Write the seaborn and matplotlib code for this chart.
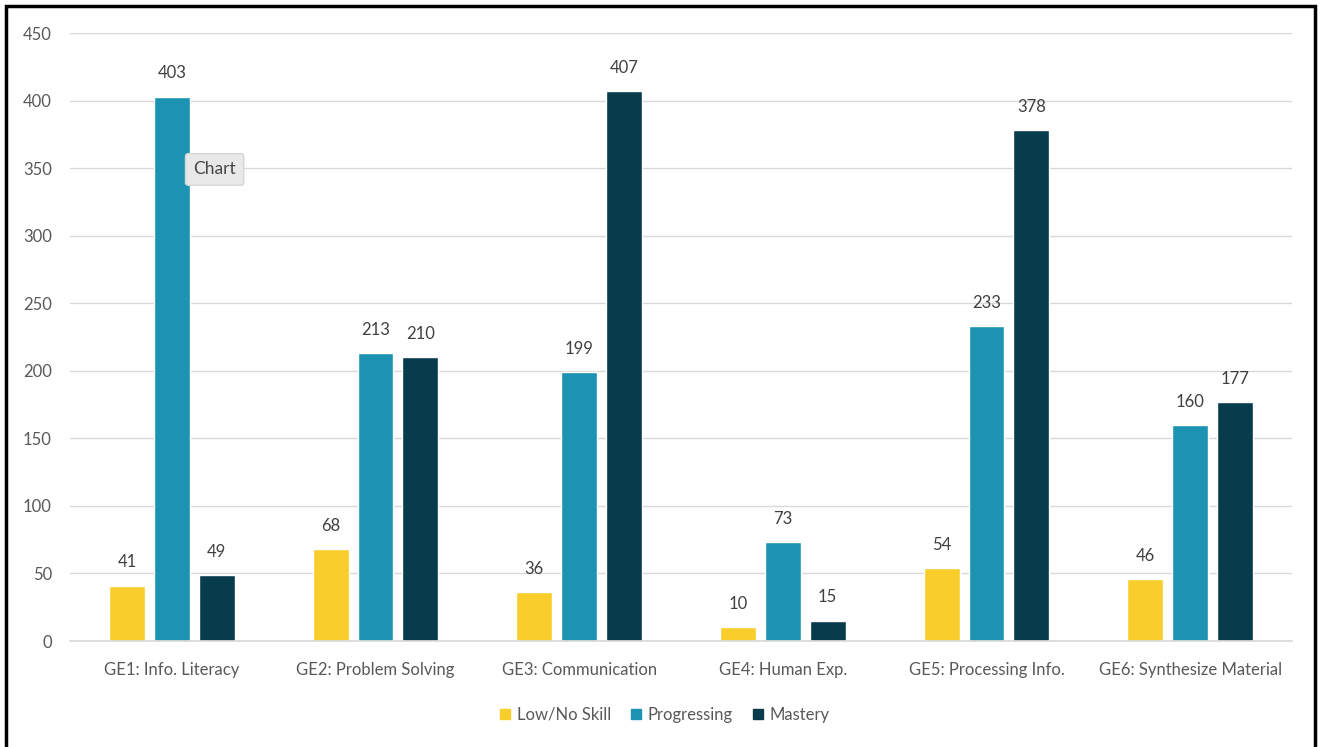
import numpy as np
import pandas as pd
import seaborn as sns
import matplotlib.pyplot as plt
from matplotlib.patches import Rectangle

# === data ===
categories = ["GE1: Info. Literacy", "GE2: Problem Solving", "GE3: Communication",
              "GE4: Human Exp.", "GE5: Processing Info.", "GE6: Synthesize Material"]
levels = ["Low/No Skill", "Progressing", "Mastery"]
low_no_skill = [41, 68, 36, 10, 54, 46]
progressing = [403, 213, 199, 73, 233, 160]
mastery = [49, 210, 407, 15, 378, 177]
colors = ["#F9CD2B", "#1D93B3", "#083B4B"]

df = pd.DataFrame({
    "category": categories * 3,
    "level": np.repeat(levels, len(categories)),
    "count": low_no_skill + progressing + mastery,
})

sns.set_theme(style="white")
plt.rcParams["font.family"] = ["Lato", "DejaVu Sans"]
text_col = "#595959"

fig = plt.figure(figsize=(13.24, 7.47), dpi=100)
ax = fig.add_axes([70 / 1324, 1 - 641 / 747, 1222 / 1324, 608 / 747])

sns.barplot(data=df, x="category", y="count", hue="level", hue_order=levels,
            order=categories, palette=colors, width=0.66, gap=0.2,
            saturation=1, ax=ax, legend=False)

# value labels
for cont in ax.containers:
    ax.bar_label(cont, padding=11, fontsize=12, color="#404040")

ax.set_ylim(0, 450)
ax.set_yticks(range(0, 451, 50))
ax.set_xlim(-0.5, len(categories) - 0.5)
ax.yaxis.grid(True, color="#D9D9D9", linewidth=1)
ax.set_axisbelow(True)
for s in ["top", "right", "left"]:
    ax.spines[s].set_visible(False)
ax.spines["bottom"].set_color("#D9D9D9")
ax.tick_params(axis="both", length=0, labelsize=12, labelcolor=text_col)
ax.tick_params(axis="y", pad=13)
ax.tick_params(axis="x", pad=15)
ax.set_xlabel("")
ax.set_ylabel("")

# legend
handles = [Rectangle((0, 0), 1, 1, color=c) for c in colors]
fig.legend(handles, levels, loc="center", bbox_to_anchor=(0.502, 0.043), ncol=3,
           frameon=False, fontsize=12, handlelength=0.6, handleheight=0.6,
           handletextpad=0.4, columnspacing=1.2, labelcolor=text_col)

# tooltip left over from the screenshot
ax.text(0.21, 349, "Chart", fontsize=12.5, color="#444444", va="center", ha="center",
        bbox=dict(boxstyle="round,pad=0.45,rounding_size=0.15", facecolor="#E8E8E8",
                  edgecolor="#D5D5D5"))

# frame around the whole picture
fig.patches.append(Rectangle((6 / 1324, -0.02), 1309 / 1324, 1.02 - 6 / 747,
                             transform=fig.transFigure, fill=False,
                             edgecolor="black", linewidth=2.5))

fig.savefig("out.png", dpi=100, facecolor="white")
